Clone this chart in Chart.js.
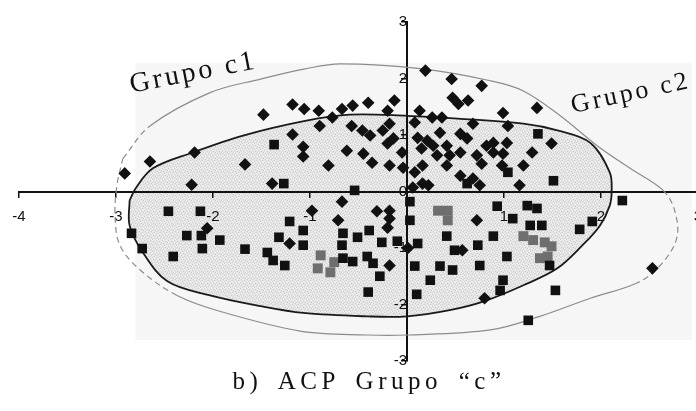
<!DOCTYPE html>
<html>
<head>
<meta charset="utf-8">
<script src="https://cdn.jsdelivr.net/npm/chart.js@4/dist/chart.umd.min.js"></script>
<style>
  html, body { margin: 0; padding: 0; background: #fff; }
  #wrap { position: relative; width: 696px; height: 411px; overflow: hidden; background: #fff; }
  #c { position: absolute; left: 0; top: 0; }
  #caption {
    position: absolute; top: 366px; left: 369px; transform: translateX(-50%);
    font: 25px "Liberation Serif", "Times New Roman", serif;
    letter-spacing: 4.5px; word-spacing: 6px; white-space: nowrap; color: #111; line-height: 30px;
  }
</style>
</head>
<body>
<div id="wrap">
  <canvas id="c" width="716" height="411"></canvas>
  <div id="caption">b) ACP Grupo “c”</div>
</div>
<script>
// Component scores, first factorial plane (factor 1 on x, factor 2 on y)
const xRange = [-4, 3];
const yRange = [-3, 3];

// Observations plotted with diamond markers
const diamondPts = [
  [-2.91,0.32],[-2.65,0.53],[-2.19,0.69],[-2.22,0.12],[-1.67,0.48],[-1.48,1.36],[-1.39,0.14],
  [-1.18,1.54],[-1.06,1.46],[-0.91,1.43],[-0.67,1.46],[-1.18,1.01],[-1.07,0.79],[-1.07,0.62],
  [-0.81,0.46],[-0.90,1.16],[-0.77,1.31],[-0.62,0.72],[-0.56,1.52],[-0.40,1.57],[-0.13,1.61],
  [-0.20,1.43],[-0.57,1.16],[-0.46,1.08],[-0.38,0.99],[-0.25,1.08],[-0.18,1.20],[-0.14,0.94],
  [-0.20,0.85],[-0.45,0.67],[-0.05,0.69],[-0.36,0.51],[-0.18,0.46],[-0.04,0.42],
  [0.19,2.14],[0.46,1.99],[0.77,1.87],[0.47,1.66],[0.53,1.55],[0.63,1.61],[0.13,1.43],[0.26,1.31],
  [0.36,1.31],[0.08,1.22],[0.34,1.04],[0.68,1.20],[0.55,1.02],[0.62,0.94],[0.11,0.95],[0.21,0.90],
  [0.15,0.76],[0.27,0.81],[0.41,0.81],[0.31,0.64],[0.44,0.64],[0.55,0.69],[0.72,0.64],[0.82,0.81],
  [0.16,0.46],[0.08,0.34],[0.41,0.46],[0.55,0.28],[0.68,0.23],[0.77,0.49],[0.16,0.14],[0.06,0.07],
  [0.75,0.11],[0.22,0.11],
  [0.99,1.39],[1.34,1.48],[1.04,1.16],[0.89,0.86],[1.03,0.86],[0.89,0.69],[0.99,0.67],[1.29,0.69],
  [1.49,0.85],[0.98,0.46],[1.20,0.46],[1.16,0.11],
  [-0.67,-0.18],[-0.98,-0.34],[-0.31,-0.35],[-0.18,-0.34],[-0.18,-0.48],[-0.20,-0.64],[-0.71,-0.51],
  [0.01,-1.00],[0.72,-0.51],[0.80,-1.89],[0.57,-1.04],[-2.06,-0.65],[-1.21,-0.92],[-0.18,-1.31],
  [2.53,-1.36]
];

// Observations plotted with square markers
const squarePts = [
  [-1.37,0.83],[-1.27,0.14],[1.35,1.02],[1.04,0.34],[1.51,0.19],[0.62,0.14],[-0.54,0.02],
  [-2.46,-0.35],[-2.13,-0.35],[-2.27,-0.78],[-2.12,-0.78],[-1.93,-0.86],[-2.11,-1.01],[-2.41,-1.15],
  [-1.67,-1.02],[-1.44,-1.08],[-1.38,-1.22],[-1.26,-1.31],[-1.32,-0.81],[-1.21,-0.53],[-1.07,-0.69],
  [-1.07,-0.95],[-2.84,-0.74],[-2.73,-1.01],
  [-0.66,-0.74],[-0.67,-0.95],[-0.51,-0.81],[-0.39,-0.69],[-0.66,-1.18],[-0.56,-1.24],[-0.41,-1.15],
  [-0.35,-1.27],[-0.26,-0.90],[-0.10,-0.88],[0.11,-0.92],[0.08,-1.32],[-0.28,-1.50],[0.24,-1.57],
  [-0.40,-1.78],[0.10,-1.82],
  [0.41,-0.79],[0.34,-1.32],[0.47,-1.39],[0.73,-0.95],[0.75,-1.31],[0.89,-0.79],[0.03,-0.18],
  [0.03,-0.51],[0.49,-1.04],
  [0.93,-0.26],[1.24,-0.25],[1.34,-0.30],[1.09,-0.48],[1.27,-0.60],[1.39,-0.60],[1.03,-1.15],
  [0.99,-1.57],[0.96,-1.75],[1.78,-0.67],[1.91,-0.53],[2.22,-0.16],[1.47,-1.31],[1.53,-1.75],
  [1.25,-2.28]
];

// Highlighted observations (grey squares)
const greyPts = [
  [-0.89,-1.13],[-0.92,-1.36],[-0.79,-1.43],[-0.75,-1.25],
  [0.32,-0.34],[0.42,-0.34],[0.42,-0.51],
  [1.20,-0.79],[1.30,-0.86],[1.42,-0.90],[1.49,-0.97],[1.45,-1.15],[1.37,-1.18]
];

// Outline of group c1 (inner, shaded region)
const groupC1 = [
  [-2.86,-0.16],[-2.80,0.05],[-2.62,0.41],[-2.21,0.69],[-1.69,0.99],[-1.05,1.25],[-0.59,1.36],
  [0.00,1.34],[0.52,1.29],[1.20,1.20],[1.55,1.08],[1.89,0.86],[2.09,0.34],[2.11,0.02],[2.09,-0.25],
  [1.99,-0.60],[1.81,-0.95],[1.55,-1.36],[1.20,-1.66],[0.80,-1.94],[0.44,-2.10],[0.00,-2.21],
  [-0.41,-2.21],[-1.07,-2.15],[-1.51,-2.03],[-2.03,-1.84],[-2.47,-1.59],[-2.73,-1.06],[-2.86,-0.60],
  [-2.86,-0.16]
];

// Outline of group c2 (outer envelope)
const groupC2 = [
  [-2.93,0.58],[-2.65,1.16],[-2.03,1.75],[-1.51,1.99],[-1.05,2.17],[-0.69,2.26],[0.16,2.17],
  [0.86,1.96],[1.20,1.78],[1.58,1.34],[1.96,0.81],[2.30,0.41],[2.64,0.02],[2.76,-0.34],[2.78,-0.83],
  [2.61,-1.31],[2.37,-1.62],[1.89,-1.89],[1.37,-2.21],[0.86,-2.45],[0.00,-2.54],[-0.41,-2.54],
  [-1.10,-2.47],[-1.93,-2.12],[-2.37,-1.84],[-2.75,-1.39],[-2.96,-0.95],[-3.01,-0.42],[-2.99,0.11],
  [-2.93,0.58]
];
// Segments of the c2 outline that are drawn dashed (by starting point index)
const c2DashedSegments = [0, 12, 13, 14, 15, 24, 25, 26, 27, 28];

// Extent of the shaded plot panel
const panelBox = [[-2.8,2.28],[2.94,2.28],[2.94,-2.63],[-2.8,-2.63],[-2.8,2.28]];

// Group names written along the outlines
const curveLabels = [
  { text: 'Grupo c1', x: -2.84, y: 1.75, angle: -11, size: 28 },
  { text: 'Grupo c2', x: 1.71, y: 1.39, angle: -12, size: 26 }
];

const toXY = arr => arr.map(([x, y]) => ({ x, y }));

const canvas = document.getElementById('c');
const ctx = canvas.getContext('2d');

// Fine grey stipple used to shade the c1 region
function stipplePattern() {
  const t = document.createElement('canvas');
  t.width = 6; t.height = 6;
  const g = t.getContext('2d');
  g.fillStyle = '#e4e4e4';
  g.fillRect(0, 0, 6, 6);
  g.fillStyle = '#cdcdcd';
  [[0,0],[3,1],[1,3],[4,4],[5,2],[2,5]].forEach(([i, j]) => g.fillRect(i, j, 1, 1));
  g.fillStyle = '#f3f3f3';
  [[2,0],[5,0],[0,2],[3,3],[1,5],[4,5]].forEach(([i, j]) => g.fillRect(i, j, 1, 1));
  return ctx.createPattern(t, 'repeat');
}

const labelPlugin = {
  id: 'curveLabels',
  afterDatasetsDraw(chart) {
    const c = chart.ctx, xs = chart.scales.x, ys = chart.scales.y;
    c.save();
    c.fillStyle = '#111';
    c.letterSpacing = '3px';
    c.textBaseline = 'alphabetic';
    c.textAlign = 'left';
    for (const l of curveLabels) {
      c.save();
      c.font = l.size + 'px "Liberation Serif", "Times New Roman", serif';
      c.translate(xs.getPixelForValue(l.x), ys.getPixelForValue(l.y));
      c.rotate(l.angle * Math.PI / 180);
      c.fillText(l.text, 0, 0);
      c.restore();
    }
    c.restore();
  }
};

const tickFont = { family: '"Liberation Sans", Arial, sans-serif', size: 15 };

new Chart(ctx, {
  type: 'scatter',
  data: {
    datasets: [
      {
        label: 'diamantes',
        data: toXY(diamondPts),
        pointStyle: 'rectRot',
        pointRadius: 6.3,
        pointHoverRadius: 6.3,
        pointBackgroundColor: '#111',
        pointBorderWidth: 0,
        order: 0
      },
      {
        label: 'cuadrados',
        data: toXY(squarePts),
        pointStyle: 'rect',
        pointRadius: 6.8,
        pointHoverRadius: 6.8,
        pointBackgroundColor: '#111',
        pointBorderWidth: 0,
        order: 0
      },
      {
        label: 'destacados',
        data: toXY(greyPts),
        pointStyle: 'rect',
        pointRadius: 7,
        pointHoverRadius: 7,
        pointBackgroundColor: '#6e6e6e',
        pointBorderWidth: 0,
        order: 1
      },
      {
        type: 'line',
        label: 'Grupo c1',
        data: toXY(groupC1),
        borderColor: '#1a1a1a',
        borderWidth: 1.8,
        backgroundColor: stipplePattern(),
        fill: 'shape',
        tension: 0.35,
        pointRadius: 0,
        order: 3
      },
      {
        type: 'line',
        label: 'Grupo c2',
        data: toXY(groupC2),
        borderColor: '#8c8c8c',
        borderWidth: 1.2,
        fill: false,
        tension: 0.35,
        pointRadius: 0,
        segment: {
          borderDash: s => c2DashedSegments.includes(s.p0DataIndex) ? [6, 4] : undefined
        },
        order: 2
      },
      {
        type: 'line',
        label: 'panel',
        data: toXY(panelBox),
        borderWidth: 0,
        backgroundColor: '#f6f6f6',
        fill: 'shape',
        tension: 0,
        pointRadius: 0,
        order: 10
      }
    ]
  },
  options: {
    responsive: false,
    animation: false,
    devicePixelRatio: 1,
    events: [],
    layout: { padding: { left: 19, right: 18, top: 21, bottom: 50 } },
    plugins: {
      legend: { display: false },
      tooltip: { enabled: false },
      filler: { drawTime: 'beforeDraw' }
    },
    scales: {
      x: {
        type: 'linear',
        min: xRange[0], max: xRange[1],
        position: { y: 0 },
        afterFit: s => { s.height = 0; },
        border: { display: true, color: '#111', width: 2 },
        grid: { drawOnChartArea: false, drawTicks: true, tickLength: 5, color: '#111', lineWidth: 1.5 },
        ticks: {
          stepSize: 1, padding: 11, color: '#111', font: tickFont,
          maxRotation: 0, autoSkip: false,
          callback: v => (v === 0 ? '' : String(v))
        }
      },
      y: {
        type: 'linear',
        min: yRange[0], max: yRange[1],
        position: { x: 0 },
        afterFit: s => { s.width = 0; },
        border: { display: true, color: '#111', width: 2 },
        grid: { drawOnChartArea: false, drawTicks: true, tickLength: 5, color: '#111', lineWidth: 1.5 },
        ticks: { stepSize: 1, padding: 13, color: '#111', font: tickFont, autoSkip: false }
      }
    }
  },
  plugins: [labelPlugin]
});
</script>
</body>
</html>
